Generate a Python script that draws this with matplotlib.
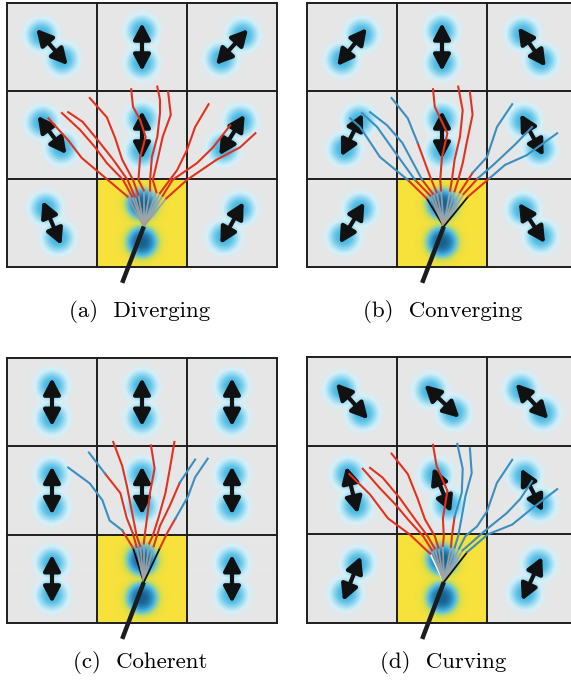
import numpy as np
import matplotlib
matplotlib.use('Agg')
import matplotlib.pyplot as plt
from matplotlib.colors import LinearSegmentedColormap
from matplotlib.patches import FancyArrowPatch

# Orientation of the double arrow in each of the 3x3 cells, degrees from vertical
# (positive = top leaning left, i.e. "\"). None = the central (seed) cell.
A_ANGLES = [[41, 0, -42], [37, 0, -32], [23, None, -29]]
B_ANGLES = [[-38, 0, 35], [-27, 0, 29], [-31, None, 33]]
C_ANGLES = [[0, 0, 0], [0, 0, 0], [0, None, 0]]
D_ANGLES = [[42, 47, 43], [14, 22, 27], [-22, None, -25]]

# Streamlines in cell units (x right, y down), listed from the fan tip upwards
A_LINES = [
    [(1.34, 2.20), (1.12, 2.01), (0.83, 1.76), (0.68, 1.56), (0.46, 1.31)],
    [(1.39, 2.20), (1.29, 2.01), (1.11, 1.82), (0.98, 1.64), (0.81, 1.44), (0.61, 1.25)],
    [(1.42, 2.20), (1.34, 2.01), (1.18, 1.78), (1.01, 1.56), (0.84, 1.35), (0.68, 1.24)],
    [(1.46, 2.18), (1.40, 2.01), (1.28, 1.78), (1.20, 1.53), (1.11, 1.30), (0.92, 1.08)],
    [(1.52, 2.13), (1.46, 2.01), (1.48, 1.75), (1.54, 1.52), (1.48, 1.33), (1.40, 1.18), (1.38, 0.98)],
    [(1.59, 2.13), (1.59, 2.01), (1.61, 1.75), (1.67, 1.52), (1.70, 1.25), (1.70, 1.10), (1.67, 0.95)],
    [(1.66, 2.15), (1.62, 2.01), (1.68, 1.75), (1.73, 1.52), (1.82, 1.27), (1.79, 1.01)],
    [(1.70, 2.16), (1.78, 2.05), (1.89, 1.90), (2.00, 1.67), (2.09, 1.41), (2.24, 1.15)],
    [(1.73, 2.19), (1.84, 2.01), (2.11, 1.82), (2.29, 1.64), (2.48, 1.39)],
    [(1.77, 2.22), (2.00, 2.01), (2.33, 1.78), (2.59, 1.64), (2.76, 1.48)],
]
B_LINES = [
    [(1.33, 2.22), (1.12, 2.01), (0.81, 1.75), (0.59, 1.41), (0.48, 1.31)],
    [(1.37, 2.19), (1.20, 2.01), (0.96, 1.67), (0.78, 1.41), (0.61, 1.25)],
    [(1.40, 2.17), (1.28, 2.01), (1.06, 1.59), (0.89, 1.39), (0.70, 1.24)],
    [(1.44, 2.15), (1.37, 1.98), (1.23, 1.59), (1.12, 1.31), (0.94, 1.08)],
    [(1.49, 2.13), (1.48, 2.01), (1.50, 1.75), (1.56, 1.48), (1.42, 1.18), (1.40, 0.98)],
    [(1.59, 2.13), (1.61, 2.01), (1.64, 1.78), (1.70, 1.52), (1.73, 1.22), (1.68, 0.95)],
    [(1.64, 2.14), (1.68, 2.01), (1.73, 1.82), (1.78, 1.56), (1.84, 1.27), (1.81, 1.01)],
    [(1.70, 2.15), (1.84, 1.93), (2.00, 1.75), (2.11, 1.41), (2.28, 1.15)],
    [(1.74, 2.17), (1.90, 1.99), (2.07, 1.84), (2.31, 1.61), (2.50, 1.41)],
    [(1.79, 2.20), (2.03, 1.99), (2.20, 1.84), (2.44, 1.73), (2.78, 1.48)],
]
C_LINES = [
    [(1.40, 2.15), (1.28, 1.95), (1.14, 1.84), (1.06, 1.61), (0.92, 1.42), (0.68, 1.24)],
    [(1.44, 2.14), (1.40, 1.99), (1.33, 1.81), (1.26, 1.53), (1.09, 1.31), (0.91, 1.07)],
    [(1.48, 2.13), (1.44, 2.01), (1.39, 1.75), (1.33, 1.44), (1.28, 1.22), (1.18, 0.95)],
    [(1.52, 2.10), (1.53, 2.01), (1.56, 1.78), (1.59, 1.52), (1.64, 1.25), (1.60, 0.99)],
    [(1.58, 2.10), (1.62, 2.01), (1.68, 1.82), (1.76, 1.53), (1.81, 1.25), (1.86, 0.95)],
    [(1.63, 2.13), (1.70, 1.90), (1.81, 1.67), (1.92, 1.41), (2.09, 1.15)],
    [(1.70, 2.15), (1.78, 1.98), (1.87, 1.82), (2.01, 1.57), (2.09, 1.35), (2.23, 1.14)],
]
D_LINES = [
    [(1.37, 2.22), (1.14, 2.00), (0.90, 1.82), (0.70, 1.55), (0.47, 1.32)],
    [(1.39, 2.18), (1.29, 2.02), (1.12, 1.83), (0.98, 1.66), (0.81, 1.48), (0.62, 1.26)],
    [(1.42, 2.16), (1.34, 2.02), (1.20, 1.83), (1.03, 1.59), (0.84, 1.36), (0.70, 1.25)],
    [(1.46, 2.15), (1.42, 2.02), (1.31, 1.83), (1.23, 1.60), (1.12, 1.32), (0.94, 1.09)],
    [(1.51, 2.13), (1.52, 2.02), (1.51, 1.82), (1.56, 1.51), (1.44, 1.23), (1.40, 0.99)],
    [(1.60, 2.14), (1.61, 2.02), (1.64, 1.80), (1.72, 1.53), (1.73, 1.26), (1.67, 0.98)],
    [(1.64, 2.15), (1.68, 2.02), (1.72, 1.80), (1.76, 1.57), (1.83, 1.31), (1.81, 1.03)],
    [(1.69, 2.16), (1.76, 2.02), (1.89, 1.91), (2.00, 1.74), (2.11, 1.42), (2.28, 1.16)],
    [(1.73, 2.18), (2.00, 1.94), (2.22, 1.76), (2.37, 1.60), (2.50, 1.40)],
    [(1.78, 2.20), (2.01, 2.00), (2.28, 1.89), (2.51, 1.70), (2.78, 1.49)],
]
# number of segments (from the fan tip) drawn red, the rest is blue; 99 = whole line
A_RED = [99] * 10
B_RED = [1, 1, 1, 2, 99, 99, 99, 1, 1, 1]
C_RED = [1, 4, 99, 99, 99, 3, 2]
D_RED = [99, 99, 99, 99, 99, 2, 0, 0, 0, 0]

FAN_ORIGIN = (1.52, 2.54)
STEM_END = (1.28, 3.18)
FAN_EDGES = [('#9c9c9c', '#9c9c9c'), ('black', 'black'), ('black', 'black'), ('white', 'black')]
CAPTIONS = ['(a)  Diverging', '(b)  Converging', '(c)  Coherent', '(d)  Curving']

CELL_W, CELL_H = 90, 88  # pixel size of one cell, used for the glow shape
RED, BLUE = '#e2321f', '#3a8fbf'

glow = LinearSegmentedColormap.from_list(
    'glow', [(0, '#e6e6e6'), (0.15, '#d4f0f9'), (0.45, '#98daf1'), (0.8, '#5ac0e6'), (1, '#45b3e0')])
seed = LinearSegmentedColormap.from_list(
    'seed', [(0, '#f7e13b'), (0.12, '#cfdd52'), (0.25, '#8ecfa6'), (0.42, '#52b8df'),
             (0.7, '#2a8bc0'), (1, '#17608f')])


def glow_image(angles, w=270, h=264):
    u = (np.arange(w) + 0.5) / w * 3
    v = (np.arange(h) + 0.5) / h * 3
    U, V = np.meshgrid(u, v)
    rgb = np.zeros((h, w, 3))
    for r in range(3):
        for c in range(3):
            ang = angles[r][c]
            centre = ang is None
            theta = np.radians(0 if centre else ang)
            off = 19 if centre else 16
            sigma = 14 if centre else 13.5
            du = off * np.sin(theta) / CELL_W
            dv = off * np.cos(theta) / CELL_H
            inten = np.zeros_like(U)
            for s in (-1, 1):
                d = np.hypot((U - c - 0.5 - s * du) * CELL_W, (V - r - 0.5 - s * dv) * CELL_H)
                inten = np.maximum(inten, np.exp(-(d / sigma) ** 2.6))
            cmap = seed if centre else glow
            col = cmap(np.clip(inten, 0, 1))[..., :3]
            mask = (U >= c) & (U < c + 1) & (V >= r) & (V < r + 1)
            rgb[mask] = col[mask]
    return rgb


def draw_panel(ax, angles, lines, reds, edges):
    ax.imshow(glow_image(angles), extent=(0, 3, 3, 0), aspect='auto', interpolation='bilinear')
    ax.set_xlim(0, 3)
    ax.set_ylim(3, 0)
    ax.axis('off')
    for k in range(4):
        ax.plot([k, k], [0, 3], color='#1e1e1e', lw=1.4, clip_on=False)
        ax.plot([0, 3], [k, k], color='#1e1e1e', lw=1.4, clip_on=False)

    # double arrows
    for r in range(3):
        for c in range(3):
            ang = angles[r][c]
            if ang is None:
                continue
            t = np.radians(ang)
            du, dv = 24 * np.sin(t) / CELL_W, 24 * np.cos(t) / CELL_H
            arr = FancyArrowPatch((c + 0.5 - du, r + 0.5 - dv), (c + 0.5 + du, r + 0.5 + dv),
                                  arrowstyle='<|-|>,head_length=0.95,head_width=0.5',
                                  mutation_scale=10, lw=3.0, color='#111111',
                                  shrinkA=0, shrinkB=0)
            ax.add_patch(arr)

    # gray fan from the seed point
    ox, oy = FAN_ORIGIN
    for i, pts in enumerate(lines):
        col = '#a3a3a3'
        if i == 0:
            col = edges[0]
        elif i == len(lines) - 1:
            col = edges[1]
        ax.plot([ox, pts[0][0]], [oy, pts[0][1]], color=col, lw=1.3, alpha=0.9,
                solid_capstyle='round')

    # streamlines, red part first then blue
    for pts, n_red in zip(lines, reds):
        xs = [p[0] for p in pts]
        ys = [p[1] for p in pts]
        k = min(n_red, len(pts) - 1)
        if k > 0:
            ax.plot(xs[:k + 1], ys[:k + 1], color=RED, lw=1.5)
        if k < len(pts) - 1:
            ax.plot(xs[k:], ys[k:], color=BLUE, lw=1.5)

    ax.plot([STEM_END[0], ox], [STEM_END[1], oy], color='#1c1c1c', lw=3.2,
            solid_capstyle='butt', clip_on=False)


fig = plt.figure(figsize=(5.71, 6.80), dpi=100)
W, H = 571, 680
boxes = [(7, 3, 267), (307, 3, 267), (7, 358, 623), (307, 357, 623)]
panels = [(A_ANGLES, A_LINES, A_RED), (B_ANGLES, B_LINES, B_RED),
          (C_ANGLES, C_LINES, C_RED), (D_ANGLES, D_LINES, D_RED)]
cap_pos = [(140, 312), (443, 312), (140, 663), (443, 663)]

for (x0, top, bot), (ang, lines, reds), edges, cap, (cx, cy) in zip(
        boxes, panels, FAN_EDGES, CAPTIONS, cap_pos):
    ax = fig.add_axes([x0 / W, 1 - bot / H, 270 / W, (bot - top) / H])
    draw_panel(ax, ang, lines, reds, edges)
    fig.text(cx / W, 1 - cy / H, cap, ha='center', va='center', fontsize=16.5,
             family='cmr10')

fig.savefig('out.png', dpi=100)
